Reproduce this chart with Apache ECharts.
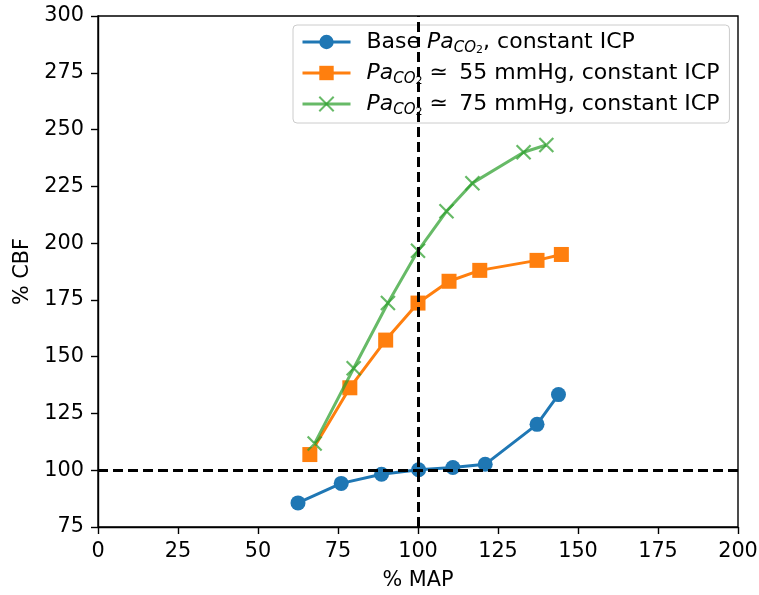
<!DOCTYPE html>
<html>
<head>
<meta charset="utf-8">
<script src="https://cdn.jsdelivr.net/npm/echarts@6/dist/echarts.min.js"></script>
<style>
  html, body { margin: 0; padding: 0; background: #fff; }
  #chart { width: 759px; height: 595px; }
</style>
</head>
<body>
<div id="chart"></div>
<script>
// Cerebral blood flow vs mean arterial pressure, both as % of baseline
const seriesNames = ['base', 'p55', 'p75'];

const baseMap = [62.5, 76.0, 88.6, 100.2, 110.9, 121.0, 137.2, 143.9];
const baseCbf = [85.6, 94.2, 98.2, 100.2, 101.2, 102.6, 120.2, 133.3];

const p55Map = [66.2, 78.7, 89.9, 100.0, 109.7, 119.3, 137.2, 144.8];
const p55Cbf = [106.9, 136.3, 157.3, 173.6, 183.2, 188.0, 192.4, 195.0];

const p75Map = [67.7, 79.9, 90.6, 100.0, 108.9, 117.0, 133.0, 140.1];
const p75Cbf = [111.8, 144.9, 173.6, 196.6, 214.0, 226.4, 240.0, 243.2];

const refMap = 100;   // vertical reference line
const refCbf = 100;   // horizontal reference line

const xTicks = { min: 0, max: 200, interval: 25 };
const yTicks = { min: 75, max: 300, interval: 25 };

const FONT = 'DejaVu Sans';
const FS = 20.8;      // axis text
const LFS = 22;       // legend text
const BLUE = '#1f77b4', ORANGE = '#ff7f0e', GREEN = 'rgba(44,160,44,0.72)';
const crossPath = 'path://M0,0L10,10M10,0L0,10';

function pairs(xs, ys) { return xs.map((x, i) => [x, ys[i]]); }

const legendText = {
  base: '{f|Base }{i|Pa}{s|CO}{ss|2}{n|, constant ICP}',
  p55: '{fi|Pa}{s|CO}{ss|2}{n| \u2243 \u200955 mmHg, constant ICP}',
  p75: '{fi|Pa}{s|CO}{ss|2}{n| \u2243 \u200975 mmHg, constant ICP}'
};

const chart = echarts.init(document.getElementById('chart'), null, { renderer: 'canvas' });

const axisCommon = {
  type: 'value',
  axisLine: { show: true, onZero: false, lineStyle: { color: '#000', width: 1.4 } },
  axisTick: { show: true, inside: false, length: 7, lineStyle: { color: '#000', width: 1.4 } },
  axisLabel: { color: '#000', fontFamily: FONT, fontSize: FS },
  splitLine: { show: false },
  nameTextStyle: { color: '#000', fontFamily: FONT, fontSize: FS },
  nameLocation: 'middle'
};

const mainText = { fontFamily: FONT, fontSize: LFS, color: '#000', lineHeight: 28, verticalAlign: 'middle' };

chart.setOption({
  animation: false,
  backgroundColor: '#fff',
  grid: {
    left: 98, right: 21, top: 16, bottom: 68,
    containLabel: false, outerBoundsMode: 'none',
    show: true, borderColor: '#000', borderWidth: 1.4, backgroundColor: 'transparent'
  },
  xAxis: Object.assign({}, axisCommon, {
    min: xTicks.min, max: xTicks.max, interval: xTicks.interval,
    name: '% MAP', nameGap: 43,
    axisLabel: Object.assign({}, axisCommon.axisLabel, { margin: 14 })
  }),
  yAxis: Object.assign({}, axisCommon, {
    min: yTicks.min, max: yTicks.max, interval: yTicks.interval,
    name: '% CBF', nameGap: 65, nameRotate: 90,
    axisLabel: Object.assign({}, axisCommon.axisLabel, { margin: 14 })
  }),
  legend: {
    orient: 'vertical',
    left: 293, top: 25,
    padding: [6, 10, 5, 8],
    itemGap: 6,
    itemWidth: 48, itemHeight: 18,
    lineStyle: { width: 3 },
    backgroundColor: 'rgba(255,255,255,0.8)',
    borderColor: '#cccccc', borderWidth: 1, borderRadius: 4,
    data: seriesNames,
    formatter: name => legendText[name],
    textStyle: {
      color: '#000', fontFamily: FONT, fontSize: LFS,
      rich: {
        n: mainText,
        f: Object.assign({}, mainText, { padding: [0, 0, 0, 11] }),
        i: Object.assign({}, mainText, { fontStyle: 'italic' }),
        fi: Object.assign({}, mainText, { fontStyle: 'italic', padding: [0, 0, 0, 11] }),
        s: { fontFamily: FONT, fontSize: 15, fontStyle: 'italic', color: '#000', lineHeight: 14, verticalAlign: 'bottom' },
        ss: { fontFamily: FONT, fontSize: 11, color: '#000', lineHeight: 10, verticalAlign: 'bottom' }
      }
    }
  },
  series: [
    {
      name: 'base', type: 'line', data: pairs(baseMap, baseCbf),
      symbol: 'circle', symbolSize: 15,
      lineStyle: { color: BLUE, width: 3 },
      itemStyle: { color: BLUE },
      z: 2
    },
    {
      name: 'p55', type: 'line', data: pairs(p55Map, p55Cbf),
      symbol: 'rect', symbolSize: 15,
      lineStyle: { color: ORANGE, width: 3 },
      itemStyle: { color: ORANGE },
      z: 3
    },
    {
      name: 'p75', type: 'line', data: pairs(p75Map, p75Cbf),
      symbol: crossPath, symbolSize: 14,
      lineStyle: { color: GREEN, width: 3 },
      itemStyle: { color: GREEN, borderColor: GREEN, borderWidth: 2.2 },
      z: 4
    },
    {
      name: 'refs', type: 'line', data: [],
      silent: true, z: 5,
      markLine: {
        silent: true, symbol: 'none', animation: false,
        label: { show: false },
        lineStyle: { color: '#000', type: [10, 5], width: 3 },
        emphasis: { disabled: true },
        data: [{ xAxis: refMap }, { yAxis: refCbf }]
      }
    }
  ]
});
</script>
</body>
</html>
